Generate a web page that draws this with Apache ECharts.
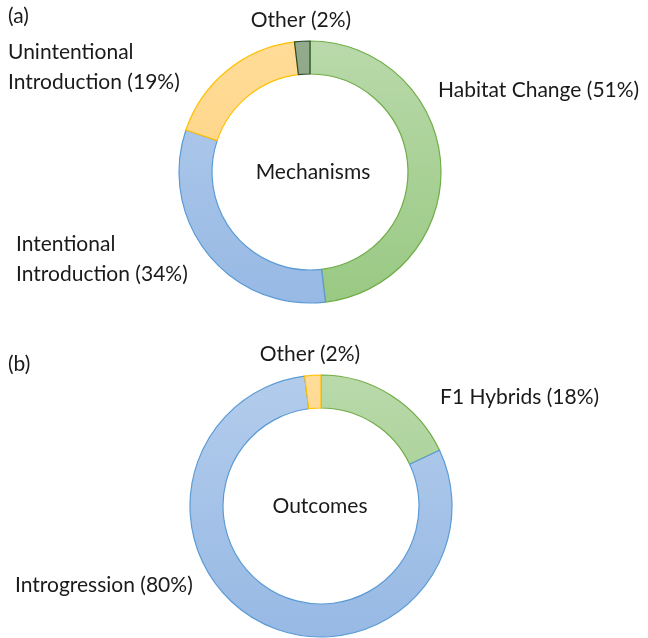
<!DOCTYPE html>
<html>
<head>
<meta charset="utf-8">
<script src="https://cdn.jsdelivr.net/npm/echarts@6/dist/echarts.min.js"></script>
<style>
html,body{margin:0;padding:0;background:#fff;}
#chart{width:648px;height:638px;}
</style>
</head>
<body>
<div id="chart"></div>
<script>
// ---- data ----
var mechCategories = ['Habitat Change', 'Intentional Introduction', 'Unintentional Introduction', 'Other'];
var mechValues = [51, 34, 19, 2];
var mechLabels = ['Habitat Change (51%)', 'Intentional\nIntroduction (34%)', 'Unintentional\nIntroduction (19%)', 'Other (2%)'];

var outCategories = ['F1 Hybrids', 'Introgression', 'Other'];
var outValues = [18, 80, 2];
var outLabels = ['F1 Hybrids (18%)', 'Introgression (80%)', 'Other (2%)'];

// ---- styling / layout ----
var FONT = 'Lato';
var FS = 21;

function grad(y1, y2, c1, c2) {
  return {type: 'linear', x: 0, y: y1, x2: 0, y2: y2, global: true,
    colorStops: [{offset: 0, color: c1}, {offset: 1, color: c2}]};
}

var A = {cx: 310, cy: 172}, B = {cx: 321, cy: 506};
var R0 = 98, R1 = 131;

function palette(cy) {
  var t = cy - R1, b = cy + R1;
  return {
    green: {color: grad(t, b, '#b9d9aa', '#99c983'), borderColor: '#70ad47'},
    blue: {color: grad(t, b, '#b3ccec', '#97b9e4'), borderColor: '#5b9bd5'},
    yellow: {color: grad(t, b, '#ffdc98', '#ffd07a'), borderColor: '#ffc000'},
    grey: {color: grad(t, b, '#93ab8d', '#7e9a78'), borderColor: '#2e4a28'}
  };
}
var pa = palette(A.cy), pb = palette(B.cy);
var mechStyles = [pa.green, pa.blue, pa.yellow, pa.grey];
var outStyles = [pb.green, pb.blue, pb.yellow];

// label anchor points (left x, middle y)
var mechLabelPos = [[438, 90, 'left'], [16, 259, 'left'], [8, 67, 'left'], [301, 20, 'center']];
var outLabelPos = [[440, 397, 'left'], [15, 585, 'left'], [310, 354, 'center']];

function buildData(cats, vals, styles) {
  return cats.map(function (c, i) {
    return {name: c, value: vals[i], itemStyle: {color: styles[i].color, borderColor: styles[i].borderColor, borderWidth: 1.2}};
  });
}

function pieSeries(center, cats, vals, styles, labels, pos) {
  return {
    type: 'pie',
    center: center,
    radius: [R0, R1],
    startAngle: 90,
    clockwise: true,
    avoidLabelOverlap: false,
    silent: true,
    animation: false,
    data: buildData(cats, vals, styles),
    label: {
      show: true,
      position: 'outside',
      formatter: function (p) { return labels[p.dataIndex]; },
      fontFamily: FONT, fontSize: FS, color: '#1a1a1a', lineHeight: 30
    },
    labelLine: {show: false},
    labelLayout: function (p) {
      var q = pos[p.dataIndex];
      return {x: q[0], y: q[1], align: q[2], verticalAlign: 'middle', hideOverlap: false};
    }
  };
}

var chart = echarts.init(document.getElementById('chart'), null, {renderer: 'canvas'});
chart.setOption({
  backgroundColor: '#ffffff',
  animation: false,
  series: [
    pieSeries([A.cx, A.cy], mechCategories, mechValues, mechStyles, mechLabels, mechLabelPos),
    pieSeries([B.cx, B.cy], outCategories, outValues, outStyles, outLabels, outLabelPos)
  ],
  graphic: [
    {type: 'text', left: 8, top: 6, style: {text: '(a)', font: FS + 'px ' + FONT, fill: '#1a1a1a'}},
    {type: 'text', left: 8, top: 354, style: {text: '(b)', font: FS + 'px ' + FONT, fill: '#1a1a1a'}},
    {type: 'text', x: 313, y: 172, style: {text: 'Mechanisms', font: FS + 'px ' + FONT, fill: '#1a1a1a', align: 'center', verticalAlign: 'middle'}},
    {type: 'text', x: 320, y: 506, style: {text: 'Outcomes', font: FS + 'px ' + FONT, fill: '#1a1a1a', align: 'center', verticalAlign: 'middle'}}
  ]
});
</script>
</body>
</html>
